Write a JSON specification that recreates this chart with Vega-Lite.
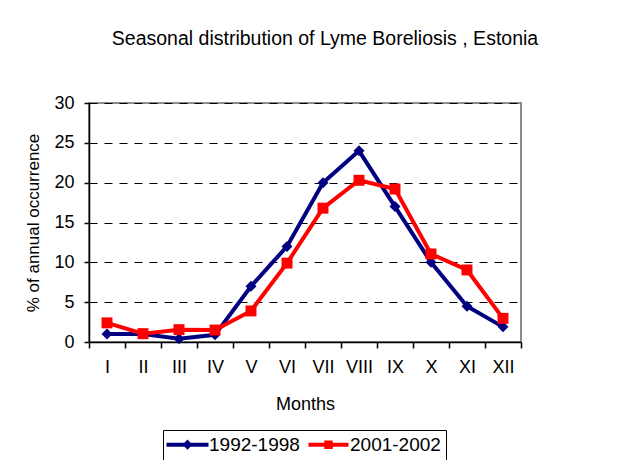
{
  "$schema": "https://vega.github.io/schema/vega-lite/v6.json",
  "autosize": "none",
  "width": 432,
  "height": 239,
  "padding": {"left": 89, "top": 103, "right": 97, "bottom": 118},
  "background": "white",
  "title": {
    "text": "Seasonal distribution of Lyme Boreliosis , Estonia",
    "font": "Liberation Sans",
    "fontSize": 19.5,
    "fontWeight": "normal",
    "color": "black",
    "anchor": "middle",
    "dx": 20,
    "offset": 45
  },
  "config": {
    "view": {"stroke": "#8c8c8c", "strokeWidth": 2},
    "font": "Liberation Sans",
    "axis": {
      "labelFont": "Liberation Sans",
      "titleFont": "Liberation Sans",
      "labelFontSize": 18,
      "titleFontSize": 18,
      "titleFontWeight": "normal",
      "labelColor": "black",
      "titleColor": "black",
      "domainColor": "black",
      "tickColor": "black",
      "domainWidth": 1.5,
      "tickWidth": 1.5,
      "tickSize": 5
    }
  },
  "data": {
    "values": [
      {"month": "I", "series": "1992-1998", "value": 1.0},
      {"month": "II", "series": "1992-1998", "value": 1.0},
      {"month": "III", "series": "1992-1998", "value": 0.4},
      {"month": "IV", "series": "1992-1998", "value": 0.9},
      {"month": "V", "series": "1992-1998", "value": 7.0},
      {"month": "VI", "series": "1992-1998", "value": 12.0},
      {"month": "VII", "series": "1992-1998", "value": 20.0},
      {"month": "VIII", "series": "1992-1998", "value": 24.0},
      {"month": "IX", "series": "1992-1998", "value": 17.0},
      {"month": "X", "series": "1992-1998", "value": 10.0},
      {"month": "XI", "series": "1992-1998", "value": 4.5},
      {"month": "XII", "series": "1992-1998", "value": 1.9},
      {"month": "I", "series": "2001-2002", "value": 2.4},
      {"month": "II", "series": "2001-2002", "value": 1.05},
      {"month": "III", "series": "2001-2002", "value": 1.55},
      {"month": "IV", "series": "2001-2002", "value": 1.5},
      {"month": "V", "series": "2001-2002", "value": 3.9},
      {"month": "VI", "series": "2001-2002", "value": 9.9},
      {"month": "VII", "series": "2001-2002", "value": 16.8},
      {"month": "VIII", "series": "2001-2002", "value": 20.3},
      {"month": "IX", "series": "2001-2002", "value": 19.2},
      {"month": "X", "series": "2001-2002", "value": 11.05},
      {"month": "XI", "series": "2001-2002", "value": 9.04},
      {"month": "XII", "series": "2001-2002", "value": 2.97}
    ]
  },
  "encoding": {
    "x": {
      "field": "month",
      "type": "ordinal",
      "sort": ["I","II","III","IV","V","VI","VII","VIII","IX","X","XI","XII"],
      "scale": {"type": "band", "paddingInner": 0, "paddingOuter": 0},
      "axis": {
        "title": "Months",
        "labelAngle": 0,
        "tickBand": "extent",
        "tickSize": 6,
        "labelPadding": 10,
        "titlePadding": 19,
        "grid": false
      }
    },
    "y": {
      "field": "value",
      "type": "quantitative",
      "scale": {"domain": [0, 30], "nice": false},
      "axis": {
        "title": "% of annual occurrence",
        "titleFontSize": 17,
        "values": [0, 5, 10, 15, 20, 25, 30],
        "grid": true,
        "gridColor": "black",
        "gridDash": [8, 7],
        "gridWidth": 1,
        "labelPadding": 10,
        "titlePadding": 11
      }
    },
    "color": {
      "field": "series",
      "type": "nominal",
      "scale": {"domain": ["1992-1998", "2001-2002"], "range": ["#000080", "#ff0000"]}
    }
  },
  "layer": [
    {
      "mark": {"type": "line", "strokeWidth": 4},
      "encoding": {
        "color": {
          "field": "series",
          "type": "nominal",
          "scale": {"domain": ["1992-1998", "2001-2002"], "range": ["#000080", "#ff0000"]},
          "legend": {
            "title": null,
            "orient": "none",
            "direction": "horizontal",
            "legendX": 74,
            "legendY": 327,
            "strokeColor": "black",
            "padding": 5,
            "labelFont": "Liberation Sans",
            "labelFontSize": 19,
            "labelColor": "black",
            "symbolSize": 100,
            "symbolOffset": 10,
            "symbolStrokeWidth": 4,
            "columnPadding": 0,
            "labelOffset": 12,
            "encode": {
              "symbols": {
                "update": {
                  "shape": {"signal": "datum.value === '1992-1998' ? 'M-4.2,0H4.2M0,-0.45L0.45,0L0,0.45L-0.45,0Z' : 'M-4,0H4M-0.45,-0.45H0.45V0.45H-0.45Z'"},
                  "fillOpacity": {"value": 1},
                  "strokeWidth": {"value": 4}
                }
              }
            }
          }
        }
      }
    },
    {
      "mark": {"type": "point", "filled": true, "opacity": 1, "size": 120},
      "encoding": {
        "shape": {
          "condition": {"test": "datum.series === '1992-1998'", "value": "diamond"},
          "value": "square"
        }
      }
    }
  ]
}
